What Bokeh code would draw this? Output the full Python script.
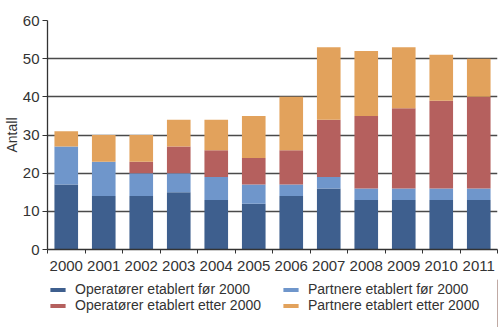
from bokeh.plotting import figure
from bokeh.layouts import column
from bokeh.models import ColumnDataSource, FixedTicker, Range1d, Legend, LegendItem
from bokeh.embed import file_html
from bokeh.resources import INLINE

years = ["2000", "2001", "2002", "2003", "2004", "2005", "2006", "2007", "2008", "2009", "2010", "2011"]
operatorer_for = [17, 14, 14, 15, 13, 12, 14, 16, 13, 13, 13, 13]
partnere_for = [10, 9, 6, 5, 6, 5, 3, 3, 3, 3, 3, 3]
operatorer_etter = [0, 0, 3, 7, 7, 7, 9, 15, 19, 21, 23, 24]
partnere_etter = [4, 7, 7, 7, 8, 11, 14, 19, 17, 16, 12, 10]

series = ["Operatører etablert før 2000", "Partnere etablert før 2000",
          "Operatører etablert etter 2000", "Partnere etablert etter 2000"]
colors = ["#3e5f8e", "#6f96cb", "#b5605e", "#e2a25c"]
ytick_values = [0, 10, 20, 30, 40, 50, 60]

FONT = "Liberation Sans"
TXT = "#333333"

x = [i + 0.5 for i in range(len(years))]
data = dict(x=x, a=operatorer_for, b=partnere_for, c=operatorer_etter, d=partnere_etter)
src = ColumnDataSource(data)

fig = figure(width=500, height=279, output_backend="svg", toolbar_location=None,
             x_range=Range1d(0, len(years)), y_range=Range1d(0, 60),
             min_border_left=43, min_border_right=3, min_border_top=20, min_border_bottom=30)
fig.outline_line_color = None
fig.background_fill_color = "white"
fig.border_fill_color = "white"

fig.vbar_stack(["a", "b", "c", "d"], x="x", width=0.63, source=src,
               color=colors, line_color=None)

fig.xgrid.grid_line_color = None
fig.ygrid.ticker = FixedTicker(ticks=ytick_values)
fig.ygrid.grid_line_color = "#4a4a4a"
fig.ygrid.grid_line_width = 1.3
fig.ygrid.level = "underlay"

# x axis: labels at centres, ticks at category boundaries
xa = fig.xaxis[0]
xa.ticker = FixedTicker(ticks=x, minor_ticks=list(range(len(years) + 1)))
xa.major_label_overrides = {xi: y for xi, y in zip(x, years)}
xa.major_tick_line_color = None
xa.minor_tick_out = 4
xa.minor_tick_in = 0
xa.minor_tick_line_color = "#333333"
xa.axis_line_color = "#333333"
xa.axis_line_width = 1.3
xa.major_label_text_font = FONT
xa.major_label_text_font_size = "15px"
xa.major_label_text_color = TXT
xa.major_label_standoff = 5

ya = fig.yaxis[0]
ya.ticker = FixedTicker(ticks=ytick_values)
ya.minor_tick_line_color = None
ya.major_tick_out = 5
ya.major_tick_in = 0
ya.major_tick_line_color = "#333333"
ya.axis_line_color = "#333333"
ya.axis_line_width = 1.3
ya.major_label_text_font = FONT
ya.major_label_text_font_size = "15px"
ya.major_label_text_color = TXT
ya.major_label_standoff = 3
ya.axis_label = "Antall"
ya.axis_label_text_font = FONT
ya.axis_label_text_font_size = "14px"
ya.axis_label_text_font_style = "normal"
ya.axis_label_text_color = TXT
ya.axis_label_standoff = 0

# legend figure underneath
leg = figure(width=500, height=48, output_backend="svg", toolbar_location=None,
             x_range=Range1d(0, 1), y_range=Range1d(0, 1),
             x_axis_location=None, y_axis_location=None,
             min_border=0, min_border_left=0, min_border_right=0,
             min_border_top=0, min_border_bottom=0)
leg.grid.visible = False
leg.outline_line_color = None
leg.border_fill_color = "white"
swatches = [leg.vbar(x=[5], top=[5], width=1, color=c, line_color=None) for c in colors]
items = [LegendItem(label=s, renderers=[r]) for s, r in zip(series, swatches)]
legend = Legend(items=items, orientation="horizontal", ncols=2, location=(1, 14))
legend.label_text_font = FONT
legend.label_text_font_size = "14px"
legend.label_text_color = TXT
legend.glyph_width = 19
legend.glyph_height = 5
legend.label_standoff = 8
legend.spacing = 0
legend.padding = 0
legend.margin = 0
legend.border_line_color = None
legend.background_fill_alpha = 0
legend.label_height = 15
legend.label_width = 206
leg.add_layout(legend, "center")

p = column(fig, leg, spacing=0)
open("out.html", "w").write(file_html(p, INLINE))
